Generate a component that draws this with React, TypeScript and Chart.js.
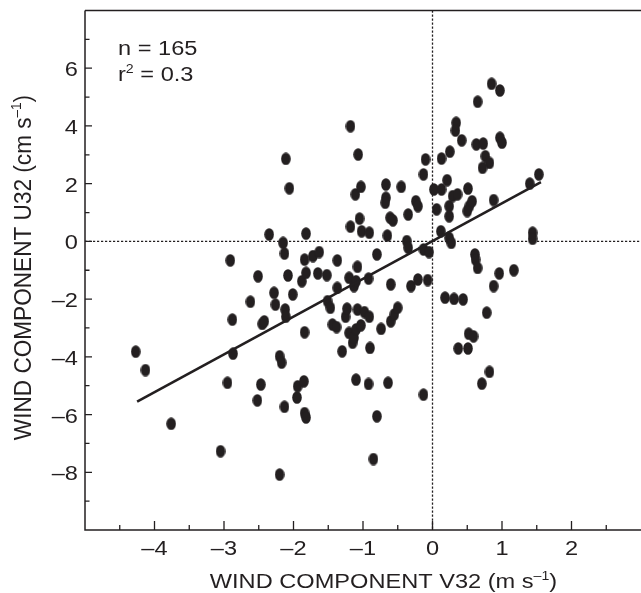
import React, { useEffect, useRef } from 'react';
import { Chart, registerables } from 'chart.js';

Chart.register(...registerables);

// ---- data ----
const xValues = [
  -4.27, -4.13, -3.76, -3.05, -2.95, -2.91, -2.88, -2.87, -2.62, -2.52,
  -2.51, -2.47, -2.45, -2.42, -2.35, -2.28, -2.26, -2.20, -2.17, -2.20,
  -2.15, -2.13, -2.13, -2.12, -2.11, -2.11, -2.06, -2.08, -2.01, -1.95,
  -1.94, -1.85, -1.84, -1.82, -1.88, -1.82, -1.84, -1.82, -1.72, -1.63,
  -1.65, -1.52, -1.84, -1.51, -1.47, -1.44, -1.38, -1.37, -1.37, -1.30,
  -1.25, -1.23, -1.20, -1.20, -1.18, -1.18, -1.15, -1.13, -1.10, -1.03,
  -1.13, -1.10, -1.11, -1.03, -1.08, -1.08, -1.07, -1.05, -1.02, -0.98,
  -0.92, -0.91, -0.91, -1.10, -0.92, -0.90, -0.85, -0.80, -0.80, -0.74,
  -0.67, -0.67, -0.68, -0.65, -0.64, -0.61, -0.57, -0.60, -0.60, -0.55,
  -0.50, -0.45, -0.35, -0.37, -0.35, -0.31, -0.21, -0.07, -0.24, -0.21,
  -0.13, -0.10, -0.13, -0.05, -0.13, 0.02, 0.13, 0.21, 0.06, 0.12,
  0.24, 0.27, 0.13, 0.18, 0.31, 0.44, 0.25, 0.29, 0.36, 0.24,
  0.24, 0.34, 0.33, 0.42, 0.37, 0.51, 0.51, 0.53, 0.50, 0.57,
  0.52, 0.59, 0.61, 0.62, 0.65, 0.63, 0.73, 0.65, 0.71, 0.82,
  0.76, 0.82, 0.72, 0.78, 0.85, 0.97, 0.88, 0.88, 0.96, 0.97,
  1.00, 1.17, 1.40, 1.53, 1.44, 1.44,
];

const yValues = [
  -3.82, -4.46, -6.32, -7.27, -4.90, -0.66, -2.71, -3.89, -2.09, -5.51,
  -1.21, -4.96, -2.86, -2.77, 0.24, -1.78, -2.19, -3.98, -4.20, -8.08,
  -0.05, -0.42, -5.73, -2.36, -2.61, 2.86, 1.84, -1.18, -1.84, -5.41,
  -5.02, -4.85, -5.95, -6.10, -1.38, -1.09, -0.63, 0.27, -0.51, -0.37,
  -1.11, -1.17, -3.15, -2.07, -2.30, -2.88, -2.97, -0.66, -1.61, -3.81,
  -2.61, -2.33, -1.26, -3.17, 3.99, 0.51, -3.51, -3.34, -3.05, -2.91,
  -1.55, -1.38, 1.63, 1.89, -2.36, -0.88, 3.01, 0.79, 0.35, -2.45,
  -1.29, -2.61, 0.30, -4.79, -4.94, -3.69, -7.54, -6.06, -0.45, -3.03,
  1.97, 1.51, 1.34, 0.20, -4.90, 0.82, 0.73, -1.49, -2.77, -2.53,
  -2.30, 1.89, 0.93, 0.01, -0.22, -1.55, -1.32, -1.34, 1.39, 1.22,
  2.32, 2.84, -0.28, -0.37, -5.31, 1.80, 1.80, 2.12, 1.11, 0.35,
  0.12, -0.05, 2.87, -1.95, -1.99, -2.01, 3.11, 1.57, 1.63, 1.22,
  0.87, 4.11, 3.84, 3.50, -3.71, -3.71, 1.83, 1.22, 1.05, 1.39,
  -3.20, -3.29, -0.45, -0.63, -0.92, 3.36, 3.39, 4.84, -4.93, -4.52,
  2.95, 2.72, 2.55, -2.47, 5.46, 5.23, -1.55, 1.43, -1.11, 3.59,
  3.42, -1.00, 2.00, 2.32, 0.30, 0.09,
];

const regressionX = [-4.25, 1.56];
const regressionY = [-5.55, 2.05];

const xRange = [-5, 3];
const yRange = [-10, 8];
const xTickLabels = [-4, -3, -2, -1, 0, 1, 2];
const yTickLabels = [-8, -6, -4, -2, 0, 2, 4, 6];
const xMinorStep = 0.5;
const yMinorStep = 1;

const statN = 'n = 165';
const statR2 = '0.3';
const xTitle = 'WIND COMPONENT V32 (m s';
const yTitle = 'WIND COMPONENT U32 (cm s';

// ---- style ----
const INK = '#231f20';
const FONT_FAMILY = "'Liberation Sans', Arial, Helvetica, sans-serif";
const FS = 20;
const SX = 1.18;

const W = 641;
const H = 593;

function fmt(v: number) {
  return v < 0 ? '\u2013' + Math.abs(v) : String(v);
}

type Run = { t: string; sup?: boolean };

function runsWidth(ctx: CanvasRenderingContext2D, runs: Run[], size: number) {
  let w = 0;
  for (const r of runs) {
    ctx.font = `${r.sup ? Math.round(size * 0.62) : size}px ${FONT_FAMILY}`;
    w += ctx.measureText(r.t).width;
  }
  return w;
}

function drawRuns(ctx: CanvasRenderingContext2D, runs: Run[], size: number, align: 'left' | 'center' | 'right') {
  const w = runsWidth(ctx, runs, size);
  let x = align === 'left' ? 0 : align === 'center' ? -w / 2 : -w;
  ctx.textAlign = 'left';
  ctx.textBaseline = 'alphabetic';
  for (const r of runs) {
    const s = r.sup ? Math.round(size * 0.62) : size;
    ctx.font = `${s}px ${FONT_FAMILY}`;
    ctx.fillText(r.t, x, r.sup ? -size * 0.4 : 0);
    x += ctx.measureText(r.t).width;
  }
}

function textAt(
  ctx: CanvasRenderingContext2D,
  runs: Run[],
  x: number,
  y: number,
  align: 'left' | 'center' | 'right',
  size = FS,
  rot = 0,
  sx = SX,
  sy = 1,
) {
  ctx.save();
  ctx.translate(x, y);
  if (rot) ctx.rotate(rot);
  ctx.scale(sx, sy);
  ctx.fillStyle = INK;
  drawRuns(ctx, runs, size, align);
  ctx.restore();
}

function makeDot() {
  const c = document.createElement('canvas');
  c.width = 10;
  c.height = 13;
  const g = c.getContext('2d')!;
  g.fillStyle = INK;
  g.beginPath();
  g.ellipse(5, 6.5, 4.8, 6.3, 0, 0, Math.PI * 2);
  g.fill();
  return c;
}

const decorPlugin = {
  id: 'decor',
  beforeDatasetsDraw(chart: any) {
    const { ctx, chartArea: a, scales } = chart;
    const x0 = scales.x.getPixelForValue(0);
    const y0 = scales.y.getPixelForValue(0);
    ctx.save();
    ctx.strokeStyle = INK;
    ctx.lineWidth = 1.3;
    ctx.setLineDash([2.2, 1.8]);
    ctx.beginPath();
    ctx.moveTo(x0, a.top);
    ctx.lineTo(x0, a.bottom);
    ctx.moveTo(a.left, y0);
    ctx.lineTo(a.right, y0);
    ctx.stroke();
    ctx.restore();
  },
  afterDatasetsDraw(chart: any) {
    const { ctx, chartArea: a, scales } = chart;
    const xs = scales.x;
    const ys = scales.y;
    ctx.save();
    ctx.strokeStyle = INK;
    ctx.lineWidth = 1.5;
    ctx.setLineDash([]);
    ctx.beginPath();
    ctx.moveTo(a.left, a.top);
    ctx.lineTo(a.left, a.bottom);
    ctx.lineTo(a.right, a.bottom);
    ctx.moveTo(a.left, a.top);
    ctx.lineTo(a.right, a.top);
    ctx.stroke();

    ctx.lineWidth = 1.3;
    ctx.beginPath();
    for (let v = xRange[0] + xMinorStep; v < xRange[1] - 1e-9; v += xMinorStep) {
      const major = Math.abs(v - Math.round(v)) < 1e-9;
      const px = xs.getPixelForValue(v);
      ctx.moveTo(px, a.bottom);
      ctx.lineTo(px, a.bottom - (major ? 9 : 5));
    }
    for (let v = yRange[0] + yMinorStep; v < yRange[1] - 1e-9; v += yMinorStep) {
      const major = Math.abs(v / 2 - Math.round(v / 2)) < 1e-9;
      const py = ys.getPixelForValue(v);
      ctx.moveTo(a.left, py);
      ctx.lineTo(a.left + (major ? 7 : 4.5), py);
    }
    ctx.stroke();
    ctx.restore();

    for (const v of xTickLabels) {
      textAt(ctx, [{ t: fmt(v) }], xs.getPixelForValue(v), a.bottom + 24.5, 'center');
    }
    for (const v of yTickLabels) {
      textAt(ctx, [{ t: fmt(v) }], a.left - 7, ys.getPixelForValue(v) + FS * 0.4, 'right');
    }

    textAt(ctx, [{ t: statN }], 118, 55, 'left', 20);
    textAt(ctx, [{ t: 'r' }, { t: '2', sup: true }, { t: ' = ' + statR2 }], 118, 81, 'left', 20);

    textAt(ctx, [{ t: xTitle }, { t: '\u20131', sup: true }, { t: ')' }], 383.5, 588, 'center', 20);
    textAt(
      ctx,
      [{ t: yTitle }, { t: '\u20131', sup: true }, { t: ')' }],
      31,
      267.5,
      'center',
      20,
      -Math.PI / 2,
      1.13,
      1.24,
    );
  },
};

export default function App() {
  const ref = useRef<HTMLCanvasElement | null>(null);

  useEffect(() => {
    const html = document.documentElement;
    const body = document.body;
    html.style.overflow = 'hidden';
    body.style.overflow = 'hidden';
    body.style.margin = '0';
    if (!ref.current) return;
    const dot = makeDot();
    const points = xValues.map((x, i) => ({ x, y: yValues[i] }));
    const reg = regressionX.map((x, i) => ({ x, y: regressionY[i] }));
    const chart = new Chart(ref.current, {
      type: 'scatter',
      data: {
        datasets: [
          {
            type: 'line' as any,
            data: reg,
            borderColor: INK,
            borderWidth: 2.6,
            pointRadius: 0,
            showLine: true,
            fill: false,
          } as any,
          {
            data: points,
            pointStyle: dot as any,
            pointRadius: 6,
            backgroundColor: INK,
            borderColor: INK,
          },
        ],
      },
      options: {
        animation: false,
        responsive: false,
        devicePixelRatio: 1,
        layout: { autoPadding: false, padding: { left: 85, right: 0, top: 10.5, bottom: 63 } },
        plugins: { legend: { display: false }, tooltip: { enabled: false } },
        scales: {
          x: { type: 'linear', min: xRange[0], max: xRange[1], display: false },
          y: { type: 'linear', min: yRange[0], max: yRange[1], display: false },
        },
      },
      plugins: [decorPlugin],
    });
    return () => chart.destroy();
  }, []);

  return (
    <div style={{ position: 'fixed', left: 0, top: 0, width: W, height: H, background: '#fff', overflow: 'hidden' }}>
      <canvas ref={ref} width={W} height={H} style={{ display: 'block', width: W, height: H }} />
    </div>
  );
}
